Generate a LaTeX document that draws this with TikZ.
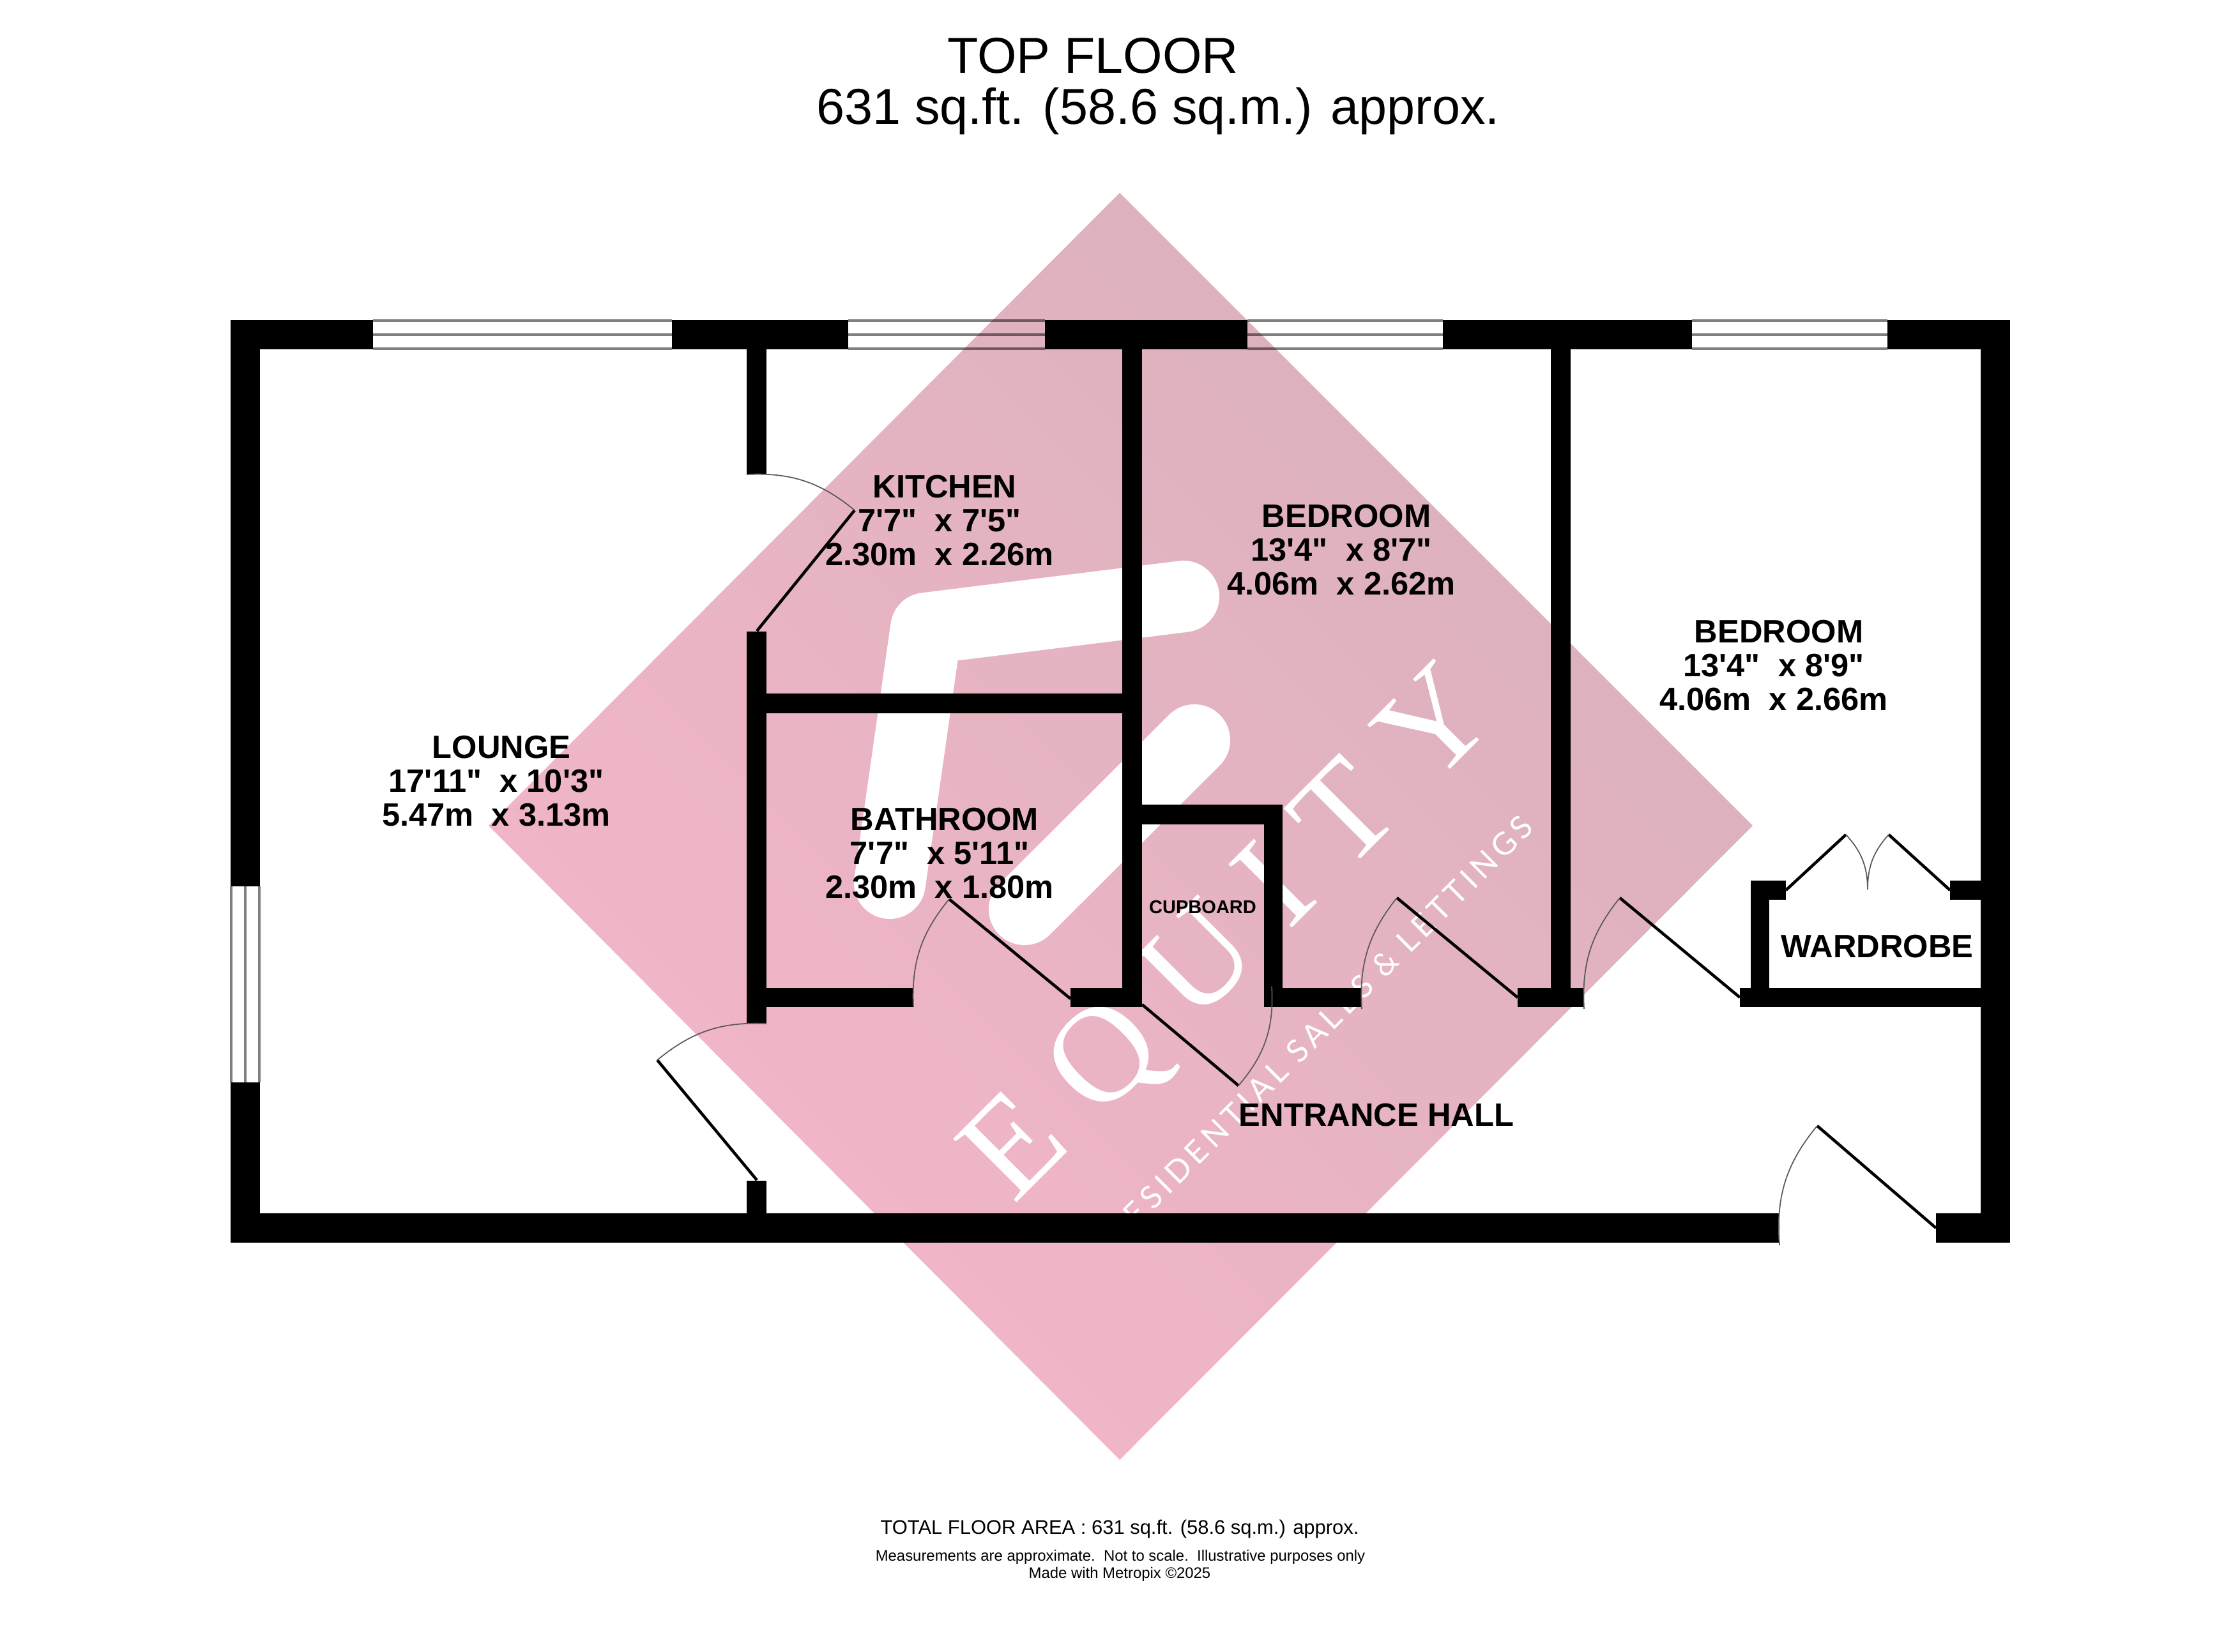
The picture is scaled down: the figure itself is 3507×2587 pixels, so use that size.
\documentclass[tikz,border=0pt]{standalone}
\usepackage{fontspec}
\usepackage{xcolor}
\usetikzlibrary{positioning}
\newfontfamily\planfont{Liberation Sans}
\newfontfamily\logofont[LetterSpace=26]{Liberation Serif}
\newfontfamily\logosub[LetterSpace=15]{Lato}
\definecolor{logolow}{HTML}{F4B6C9}
\definecolor{logohigh}{HTML}{D9B1BB}
\newcommand{\roomtxt}[3]{\hspace*{1.6mm}#1\\#2\\#3}

\begin{document}
\begin{tikzpicture}[x=0.1mm, y=-0.1mm,
		wall/.style={fill=black},
		glazing/.style={draw=black, opacity=.5, line width=1.4pt},
		doorleaf/.style={draw=black, line width=1.3pt},
		doorarc/.style={draw=black!65, line width=.5pt},
		swoosh/.style={draw=white, line width=31.9pt, line cap=round, line join=round},
		roomlabel/.style={font=\planfont\bfseries\fontsize{14.4}{15.08}\selectfont, align=center, inner sep=0pt},
		heading/.style={font=\planfont\fontsize{22.5}{24}\selectfont, inner sep=0pt, anchor=base},
		smallprint/.style={font=\planfont\fontsize{6.8}{8}\selectfont, inner sep=0pt, anchor=base}]
		\useasboundingbox[fill=white] (0,0) rectangle (3507,2587);
		\begin{scope} % Logo {{{
		    \shade[top color=logohigh, bottom color=logolow, shading angle=-45]
		      (1753,302) -- (2744,1293) -- (1753,2286) -- (765,1293) -- cycle;
		    \draw[swoosh] (1853,934) -- (1450,984) -- (1393,1383);
		    \draw[swoosh] (1870,1159) -- (1604,1424);
		    \node[rotate=45, anchor=base, inner sep=0pt, text=white, font=\logofont\fontsize{61}{61}\selectfont] (logoname) at (1968,1507) {EQUITY};
		    \node[rotate=45, anchor=base, inner sep=0pt, text=white, font=\logosub\fontsize{14}{14}\selectfont] (logotag) at (2078,1624) {RESIDENTIAL SALES \& LETTINGS};
		\end{scope} % }}}
		\begin{scope} % Walls {{{
		    \foreach \xa/\ya/\xb/\yb in {361/501/584/547, 1052/501/1328/547, 1636/501/1953/547, 2259/501/2649/547, 2955/501/3147/547,
		      361/501/407/1388, 361/1695/407/1946, 361/1900/2786/1946, 3031/1900/3147/1946, 3101/501/3147/1946,
		      1169/547/1200/743, 1169/989/1200/1603, 1169/1849/1200/1900, 1200/1086/1758/1117, 1757/547/1788/1577,
		      1200/1547/1430/1577, 1676/1547/1788/1577, 1788/1260/2008/1291, 1979/1260/2008/1577, 1979/1547/2132/1577,
		      2428/547/2459/1577, 2376/1547/2480/1577, 2724/1547/3101/1577, 2741/1379/2770/1577, 2741/1379/2796/1409, 3053/1379/3101/1409} {
		      \fill[wall] (\xa,\ya) rectangle (\xb,\yb);
		    }
		\end{scope} % }}}
		\begin{scope} % Windows {{{
		    \foreach \xa/\xb in {584/1052, 1328/1636, 1953/2259, 2649/2955} {
		      \foreach \y in {502,524,546} {
		        \draw[glazing] (\xa,\y) -- (\xb,\y);
		      }
		    }
		    \foreach \x in {362,384,406} {
		      \draw[glazing] (\x,1388) -- (\x,1695);
		    }
		\end{scope} % }}}
		\begin{scope} % Doors {{{
		    \foreach \hx/\hy/\tx/\ty/\ex/\ey/\bend in {1185/988/1338/799/1169/743/-21, 1676/1564/1486/1408/1430/1577/-21,
		      1185/1848/1029/1660/1200/1603/21, 1788/1573/1939/1700/1991/1545/-22, 2376/1562/2187/1406/2132/1580/-21,
		      2724/1562/2536/1406/2480/1580/-21, 3031/1923/2845/1763/2786/1950/-22, 2796/1394/2890/1307/2924/1393/21,
		      3053/1394/2957/1307/2924/1393/-21} {
		      \draw[doorleaf] (\hx,\hy) -- (\tx,\ty);
		      \draw[doorarc] (\tx,\ty) to[bend left=\bend] (\ex,\ey);
		    }
		\end{scope} % }}}
		\begin{scope} % Labels {{{
		    \node[roomlabel] (lounge) at (777,1223) {\roomtxt{LOUNGE}{17'11"\ \ x 10'3"}{5.47m\ \ x 3.13m}};
		    \node[roomlabel] (kitchen) at (1471,815) {\roomtxt{KITCHEN}{7'7"\ \ x 7'5"}{2.30m\ \ x 2.26m}};
		    \node[roomlabel] (bathroom) at (1471,1336) {\roomtxt{BATHROOM}{7'7"\ \ x 5'11"}{2.30m\ \ x 1.80m}};
		    \node[roomlabel] (bedroomone) at (2100,861) {\roomtxt{BEDROOM}{13'4"\ \ x 8'7"}{4.06m\ \ x 2.62m}};
		    \node[roomlabel] (bedroomtwo) at (2777,1042) {\roomtxt{BEDROOM}{13'4"\ \ x 8'9"}{4.06m\ \ x 2.66m}};
		    \node[roomlabel, anchor=base] (wardrobe) at (2939,1499) {WARDROBE};
		    \node[roomlabel, anchor=base] (hall) at (2155,1763) {ENTRANCE HALL};
		    \node[roomlabel, anchor=base, font=\planfont\bfseries\fontsize{8.27}{9}\selectfont] (cupboard) at (1883,1430) {CUPBOARD};
		    \node[heading] (title) at (1711,115) {TOP FLOOR};
		    \node[heading] (subtitle) at (1813,195) {631 sq.ft. (58.6 sq.m.) approx.};
		    \node[smallprint, font=\planfont\fontsize{8.8}{10}\selectfont] (area) at (1753,2402) {TOTAL FLOOR AREA : 631 sq.ft. (58.6 sq.m.) approx.};
		    \node[smallprint] (disclaimer) at (1754,2444) {Measurements are approximate.\ \ Not to scale.\ \ Illustrative purposes only};
		    \node[smallprint] (maker) at (1753,2471) {Made with Metropix \textcopyright 2025};
		\end{scope} % }}}
\end{tikzpicture}
\end{document}
